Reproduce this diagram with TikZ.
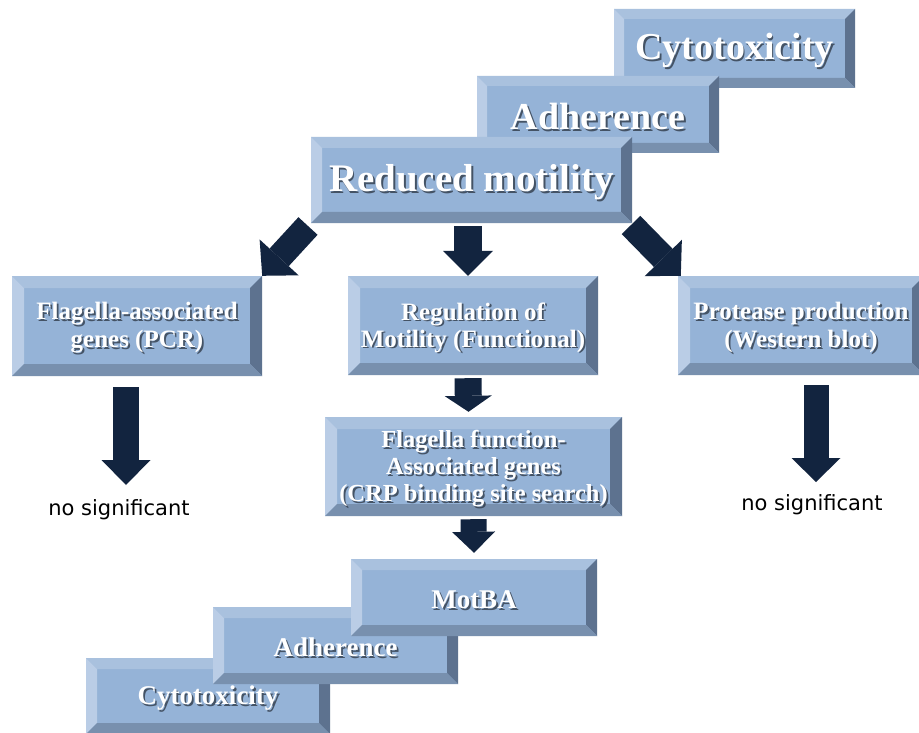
\documentclass[tikz,border=0pt]{standalone}
\usepackage{fontspec}
\setmainfont{Liberation Serif}
\newfontfamily\nsfont{DejaVu Sans}
\usetikzlibrary{arrows.meta,calc}
\definecolor{bvface}{HTML}{95B3D7}
\definecolor{bvtop}{HTML}{A9C1DE}
\definecolor{bvleft}{HTML}{BACDE6}
\definecolor{bvright}{HTML}{5D728F}
\definecolor{bvbot}{HTML}{7890AE}
\definecolor{navy}{HTML}{12243F}
\definecolor{shadowcol}{HTML}{2A3340}
\tikzset{
  boxtext/.style={inner sep=0pt, align=center, text=white},
  blockarrow/.style n args={3}{draw=navy, line width=#1,
     -{Triangle[length=#2 0 0, width=#3 0 0, line width=0pt 0 0]}},
  nstext/.style={inner sep=0pt, font=\nsfont\fontsize{21}{24}\selectfont, text=black}
}
% #1 name, #2 x1, #3 y1, #4 x2, #5 y2, #6 bevel, #7 font size, #8 line skip, #9 text
\newcommand\bevbox[9]{%
  \fill[bvface] (#2,#3) rectangle (#4,#5);
  \fill[bvtop] (#2,#3) -- (#4,#3) -- ({#4-#6},{#3+#6}) -- ({#2+#6},{#3+#6}) -- cycle;
  \fill[bvleft] (#2,#3) -- ({#2+#6},{#3+#6}) -- ({#2+#6},{#5-#6}) -- (#2,#5) -- cycle;
  \fill[bvright] (#4,#3) -- (#4,#5) -- ({#4-#6},{#5-#6}) -- ({#4-#6},{#3+#6}) -- cycle;
  \fill[bvbot] (#2,#5) -- (#4,#5) -- ({#4-#6},{#5-#6}) -- ({#2+#6},{#5-#6}) -- cycle;
  \node[boxtext, text=shadowcol, opacity=0.75, font=\bfseries\fontsize{#7}{#8}\selectfont] (#1-sh) at ({(#2+#4)/2+1.8},{(#3+#5)/2+3.8}) {#9};
  \node[boxtext, font=\bfseries\fontsize{#7}{#8}\selectfont] (#1-tx) at ({(#2+#4)/2},{(#3+#5)/2+2}) {#9};
  \node[inner sep=0pt, minimum width={(#4-#2)*1pt}, minimum height={(#5-#3)*1pt}] (#1) at ({(#2+#4)/2},{(#3+#5)/2}) {};
}
\begin{document}
\begin{tikzpicture}[x=1pt,y=-1pt]
\clip (0,0) rectangle (919,733);
\fill[white] (0,0) rectangle (919,733);
% top stair
\bevbox{topcyto}{614}{9}{855}{88}{10}{38}{42}{Cytotoxicity}
\bevbox{topadh}{477}{76}{719}{153}{10}{38}{42}{Adherence}
\bevbox{rm}{311}{137}{632}{223}{11}{39}{42}{Reduced motility}
% middle row
\bevbox{fa}{12}{276}{262}{376}{12}{25}{28}{Flagella-associated\\genes (PCR)}
\bevbox{reg}{348}{276}{598}{375}{12}{25}{27}{Regulation of\\Motility (Functional)}
\bevbox{prot}{678}{276}{924}{375}{12}{25}{28}{Protease production\\(Western blot)}
\bevbox{ffa}{325}{417}{622}{516}{12}{24.5}{27}{Flagella function-\\Associated genes\\(CRP binding site search)}
% bottom stair
\bevbox{botcyto}{86}{658}{330}{734}{11}{27}{30}{Cytotoxicity}
\bevbox{botadh}{213}{607}{458}{684}{11}{27}{30}{Adherence}
\bevbox{motba}{351}{559}{597}{636}{11}{27}{30}{MotBA}
% texts
\node[nstext] (nsl) at (119,510) {no significant};
\node[nstext] (nsr) at (812,505) {no significant};
% arrows
\coordinate (d1) at (308,226);
\coordinate (d2) at (631,225);
\coordinate (c1s) at (468,226);
\coordinate (c4s) at (126,387);
\coordinate (c4e) at (126,485);
\coordinate (c5s) at (816,385);
\coordinate (c5e) at (816,482);
\draw[blockarrow={26pt}{25pt}{53pt}] (d1) -- (fa.north east);
\draw[blockarrow={26pt}{25pt}{52pt}] (d2) -- ([xshift=3pt]prot.north west);
\draw[blockarrow={28pt}{25pt}{50pt}] (c1s) -- ([xshift=-5pt]reg.north);
\draw[blockarrow={27pt}{16pt}{47pt}] ([xshift=-5pt,yshift=-3pt]reg.south) -- ([xshift=-5pt,yshift=5pt]ffa.north);
\draw[blockarrow={26pt}{21pt}{43pt}] ([yshift=-3pt]ffa.south) -- ([yshift=6pt]motba.north);
\draw[blockarrow={26pt}{25pt}{49pt}] (c4s) -- (c4e);
\draw[blockarrow={25pt}{24pt}{49pt}] (c5s) -- (c5e);
\end{tikzpicture}
\end{document}
